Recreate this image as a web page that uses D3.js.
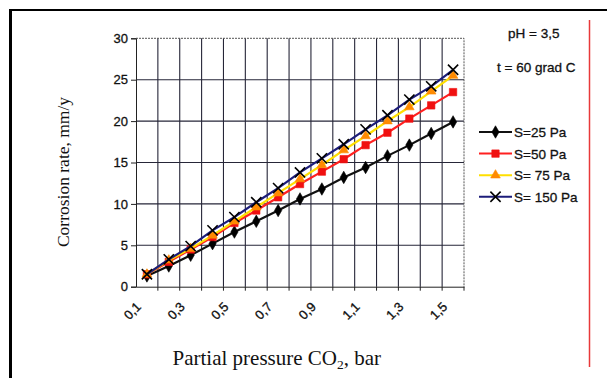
<!DOCTYPE html>
<html>
<head>
<meta charset="utf-8">
<script src="https://cdn.jsdelivr.net/npm/d3@7"></script>
<style>
  body { margin: 0; background: #fff; }
  svg { display: block; }
  .scan { font-family: "Liberation Sans", Arial, sans-serif; fill: #111; stroke: #111; stroke-width: 0.3px; }
</style>
</head>
<body>
<div id="chart"></div>
<script>
// values (mm/y)
const pressures = ["0,1","0,2","0,3","0,4","0,5","0,6","0,7","0,8","0,9","1,0","1,1","1,2","1,3","1,4","1,5"];
const shownLabels = ["0,1","0,3","0,5","0,7","0,9","1,1","1,3","1,5"];
const s25 = [1.3, 2.5, 3.8, 5.2, 6.6, 7.9, 9.2, 10.6, 11.8, 13.2, 14.4, 15.8, 17.1, 18.5, 19.9];
const s50 = [1.5, 3.0, 4.5, 6.0, 7.7, 9.2, 10.8, 12.4, 13.9, 15.4, 17.1, 18.6, 20.3, 21.9, 23.5];
const s75 = [1.5, 3.2, 4.6, 6.2, 7.9, 9.6, 11.3, 13.0, 14.7, 16.5, 18.2, 20.0, 21.7, 23.6, 25.5];
const s150 = [1.5, 3.3, 4.9, 6.8, 8.4, 10.2, 11.9, 13.8, 15.5, 17.2, 19.0, 20.7, 22.6, 24.2, 26.2];
const yTicks = [0, 5, 10, 15, 20, 25, 30];
const seriesNames = ["S=25 Pa", "S=50 Pa", "S= 75 Pa", "S= 150 Pa"];

const W = 607, H = 378;
const plot = {left: 136, right: 464, top: 38.3, bottom: 286.7};

const svg = d3.select("#chart").append("svg")
  .attr("width", W)
  .attr("height", H);

// page frame (scan edges)
svg.append("line").attr("x1", 10.5).attr("x2", 10.5).attr("y1", 9).attr("y2", H)
  .attr("stroke", "#000").attr("stroke-width", 3);
svg.append("line").attr("x1", 9).attr("x2", W).attr("y1", 10).attr("y2", 10)
  .attr("stroke", "#000").attr("stroke-width", 2);
svg.append("line").attr("x1", 589.5).attr("x2", 589.5).attr("y1", 20).attr("y2", 367)
  .attr("stroke", "#e8383a").attr("stroke-width", 1.5);

const x = d3.scaleBand()
  .domain(pressures)
  .range([plot.left, plot.right])
  .padding(0);

const y = d3.scaleLinear()
  .domain([0, 30])
  .range([plot.bottom, plot.top]);

const cx = d => x(d) + x.bandwidth() / 2;

// grid
const grid = svg.append("g").attr("stroke", "#262638").attr("stroke-width", 1.1);
grid.selectAll(".vg")
  .data(pressures.slice(1))
  .join("line")
  .attr("x1", d => x(d)).attr("x2", d => x(d))
  .attr("y1", plot.top).attr("y2", plot.bottom);
grid.selectAll(".hg")
  .data(yTicks.slice(1, -1))
  .join("line")
  .attr("x1", plot.left).attr("x2", plot.right)
  .attr("y1", d => y(d)).attr("y2", d => y(d));

// top and right edges of plot area look dotted in the scan
svg.append("path")
  .attr("d", `M${plot.left},${y(30)}H${plot.right}V${plot.bottom}`)
  .attr("fill", "none")
  .attr("stroke", "#555")
  .attr("stroke-width", 1)
  .attr("stroke-dasharray", "2,1");

// y axis
const yAxis = svg.append("g")
  .attr("transform", `translate(${plot.left},0)`)
  .call(d3.axisLeft(y).tickValues(yTicks).tickSize(5).tickPadding(3));
yAxis.select(".domain").attr("stroke", "#222");
yAxis.selectAll(".tick line").attr("stroke", "#222");
yAxis.selectAll("text")
  .attr("class", "scan")
  .style("font-size", "13px");

// x axis
const xAxis = svg.append("g")
  .attr("transform", `translate(0,${plot.bottom})`)
  .call(d3.axisBottom(x).tickValues(shownLabels).tickSize(0).tickFormat(d => d));
xAxis.select(".domain").attr("stroke", "#222");
xAxis.selectAll("text")
  .attr("class", "scan")
  .style("font-size", "13px")
  .attr("y", 0).attr("dy", 0)
  .attr("transform", "translate(-5,21)rotate(-45)")
  .style("text-anchor", "end");

// category boundary ticks below x axis
svg.append("g").selectAll("line")
  .data(pressures.slice(1).concat(["end"]))
  .join("line")
  .attr("x1", d => d === "end" ? plot.right : x(d))
  .attr("x2", d => d === "end" ? plot.right : x(d))
  .attr("y1", plot.bottom).attr("y2", plot.bottom + 4)
  .attr("stroke", "#222");

// series
const series = [
  {name: seriesNames[0], values: s25, line: "#111", mark: "#000", sym: d3.symbolDiamond, size: 45},
  {name: seriesNames[1], values: s50, line: "#ff2020", mark: "#f01010", sym: d3.symbolSquare, size: 55},
  {name: seriesNames[2], values: s75, line: "#ffdf00", mark: "#ff8a00", sym: d3.symbolTriangle, size: 40},
  {name: seriesNames[3], values: s150, line: "#1c1c7a", mark: "#000", sym: d3.symbolX, size: 70}
];

const lineGen = d3.line()
  .x((d, i) => cx(pressures[i]))
  .y(d => y(d));

function drawMarker(sel, s) {
  const isX = s.sym === d3.symbolX;
  sel.attr("d", d3.symbol().type(s.sym).size(s.size))
    .attr("fill", isX ? "none" : s.mark)
    .attr("stroke", s.mark)
    .attr("stroke-width", isX ? 1.6 : 0.6);
}

series.forEach(s => {
  svg.append("path")
    .datum(s.values)
    .attr("d", lineGen)
    .attr("fill", "none")
    .attr("stroke", s.line)
    .attr("stroke-width", 2.2);
  svg.append("g").selectAll("path")
    .data(s.values)
    .join("path")
    .attr("transform", (d, i) => `translate(${cx(pressures[i])},${y(d)})`)
    .call(drawMarker, s);
});

// legend
const legend = svg.append("g");
series.forEach((s, i) => {
  const ly = 132 + i * 21.6;
  legend.append("line")
    .attr("x1", 479).attr("x2", 512).attr("y1", ly).attr("y2", ly)
    .attr("stroke", s.line).attr("stroke-width", 2);
  legend.append("path")
    .attr("transform", `translate(495.5,${ly})`)
    .call(drawMarker, s);
  legend.append("text")
    .attr("class", "scan")
    .attr("x", 514).attr("y", ly + 5)
    .style("font-size", "13.5px")
    .text(s.name);
});

// conditions
svg.append("text").attr("class", "scan").attr("x", 508).attr("y", 38)
  .style("font-size", "13.5px")
  .text("pH = 3,5");
svg.append("text").attr("class", "scan").attr("x", 497).attr("y", 72)
  .style("font-size", "13.5px")
  .text("t = 60 grad C");

// axis titles
svg.append("text")
  .attr("transform", "translate(69,172)rotate(-90)")
  .attr("text-anchor", "middle")
  .style("font-family", "Liberation Serif, Times New Roman, serif")
  .style("font-size", "17.5px")
  .attr("fill", "#111")
  .text("Corrosion rate, mm/y");

const xt = svg.append("text")
  .attr("x", 172.5).attr("y", 365)
  .style("font-family", "Liberation Serif, Times New Roman, serif")
  .style("font-size", "21px")
  .attr("fill", "#111");
xt.append("tspan").text("Partial pressure CO");
xt.append("tspan").attr("dy", 4).style("font-size", "13.5px").text("2");
xt.append("tspan").attr("dy", -4).text(", bar");
</script>
</body>
</html>
